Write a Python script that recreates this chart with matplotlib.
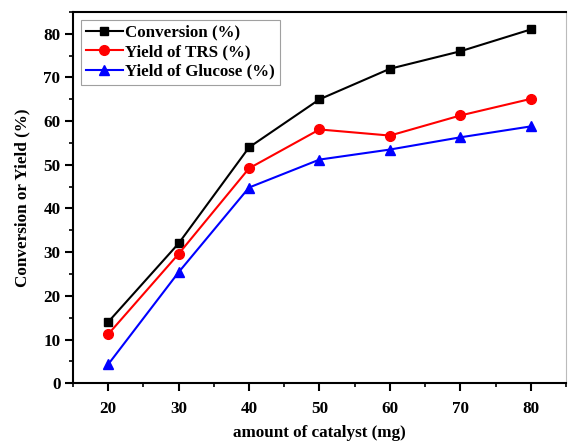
import matplotlib
matplotlib.use("Agg")
import matplotlib.pyplot as plt
from matplotlib.ticker import MultipleLocator

catalyst = [20, 30, 40, 50, 60, 70, 80]
conversion = [14.0, 32.0, 54.0, 65.0, 72.0, 76.0, 81.0]
yield_trs = [11.2, 29.6, 49.2, 58.1, 56.7, 61.3, 65.1]
yield_glucose = [4.3, 25.4, 44.8, 51.2, 53.5, 56.3, 58.8]

plt.rcParams['font.family'] = ['Liberation Serif', 'DejaVu Serif']
plt.rcParams['font.weight'] = 'bold'

fig = plt.figure(figsize=(5.7, 4.44), dpi=100)
ax = fig.add_axes([0.128, 0.137, 0.865, 0.836])

ax.plot(catalyst, conversion, color='black', marker='s', ms=6, lw=1.5, label='Conversion (%)')
ax.plot(catalyst, yield_trs, color='red', marker='o', ms=7, lw=1.5, label='Yield of TRS (%)')
ax.plot(catalyst, yield_glucose, color='blue', marker='^', ms=7, lw=1.5, label='Yield of Glucose (%)')

ax.set_xlim(15, 85)
ax.set_ylim(0, 85)
ax.xaxis.set_major_locator(MultipleLocator(10))
ax.xaxis.set_minor_locator(MultipleLocator(5))
ax.yaxis.set_major_locator(MultipleLocator(10))
ax.yaxis.set_minor_locator(MultipleLocator(5))
ax.tick_params(which='major', direction='out', length=5.5, width=1.5, labelsize=12.3)
ax.tick_params(which='minor', direction='out', length=3, width=1.2)
ax.tick_params(axis='x', which='major', pad=7)
ax.tick_params(axis='y', which='major', pad=3.5)
ax.spines['left'].set_linewidth(1.5)
ax.spines['bottom'].set_linewidth(1.5)
ax.spines['top'].set_linewidth(1.5)
ax.spines['right'].set_linewidth(0.8)
ax.spines['right'].set_color('#bbbbbb')
for lab in ax.get_xticklabels() + ax.get_yticklabels():
    lab.set_fontweight('bold')

ax.set_xlabel('amount of catalyst (mg)', fontsize=12.3, fontweight='bold', labelpad=6)
ax.set_ylabel('Conversion or Yield (%)', fontsize=12.3, fontweight='bold', labelpad=9)

leg = ax.legend(loc='upper left', fontsize=12.2, frameon=True, fancybox=False,
                edgecolor='#888888', handlelength=2.2, handletextpad=0.15,
                borderaxespad=0.45, labelspacing=0.2, borderpad=0.3)
leg.get_frame().set_linewidth(0.8)
for t in leg.get_texts():
    t.set_fontweight('bold')

fig.savefig('out.png', dpi=100)
